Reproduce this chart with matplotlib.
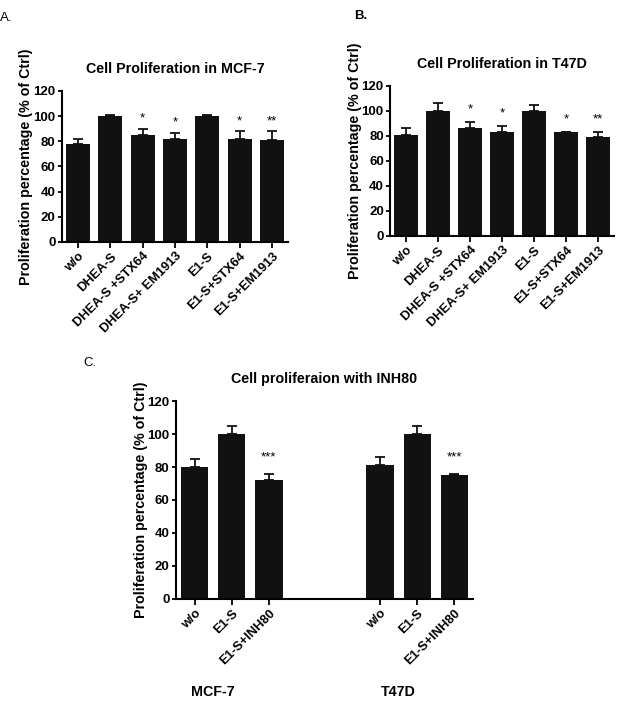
import numpy as np
import matplotlib.pyplot as plt

plt.rcParams['font.family'] = ['Liberation Sans', 'DejaVu Sans']
plt.rcParams['font.weight'] = 'bold'

# panel A / B categories
groups = ['w/o', 'DHEA-S', 'DHEA-S +STX64', 'DHEA-S+ EM1913', 'E1-S', 'E1-S+STX64', 'E1-S+EM1913']
mcf_mean = [78, 100, 85, 82, 100, 82, 81]
mcf_err = [4, 1, 5, 5, 1, 6, 7]
mcf_sig = ['', '', '*', '*', '', '*', '**']
t47_mean = [81, 100, 86, 83, 100, 83, 79]
t47_err = [5, 6, 5, 5, 5, 0.5, 4]
t47_sig = ['', '', '*', '*', '', '*', '**']

# panel C
inh_labels = ['w/o', 'E1-S', 'E1-S+INH80']
inh_mcf_mean = [80, 100, 72]
inh_mcf_err = [5, 5, 4]
inh_t47_mean = [81, 100, 75]
inh_t47_err = [5, 5, 1]
inh_sig = ['', '', '***']
yticks = [0, 20, 40, 60, 80, 100, 120]


def barPanel(ax, x, mean, err, sig, labels, title, star_off):
    ax.bar(x, mean, width=0.74, color='#111111', zorder=2)
    ax.errorbar(x, mean, yerr=[np.zeros(len(err)), err], fmt='none', ecolor='#111111',
                elinewidth=1.3, capsize=3.6, capthick=1.3, zorder=1)
    for xi, m, e, s in zip(x, mean, err, sig):
        if s:
            ax.text(xi, m + e + star_off, s, ha='center', va='center', fontsize=9.5, fontweight='normal')
    ax.set_ylim(0, 120)
    ax.set_yticks(yticks)
    ax.set_xticks(x)
    ax.set_xticklabels(labels, rotation=45, ha='right', rotation_mode='anchor', fontsize=9.3)
    ax.tick_params(axis='y', labelsize=9.5, width=1.3, length=3, pad=1.5)
    ax.tick_params(axis='x', width=1.3, length=4, pad=2)
    for sp in ['top', 'right']:
        ax.spines[sp].set_visible(False)
    for sp in ['left', 'bottom']:
        ax.spines[sp].set_linewidth(1.5)
    ax.set_title(title, fontsize=10.3, fontweight='bold', pad=13)
    ax.set_ylabel('Proliferation percentage (% of Ctrl)', fontsize=10.3, fontweight='bold', labelpad=0)


fig = plt.figure(figsize=(6.24, 7.17), dpi=100)

axA = fig.add_axes([0.099, 0.6625, 0.363, 0.2106])
xA = np.arange(len(groups))
barPanel(axA, xA, mcf_mean, mcf_err, mcf_sig, groups, 'Cell Proliferation in MCF-7', 8)
axA.set_xlim(-0.5, 6.5)

axB = fig.add_axes([0.625, 0.6709, 0.359, 0.2092])
barPanel(axB, xA, t47_mean, t47_err, t47_sig, groups, 'Cell Proliferation in T47D', 10)
axB.set_xlim(-0.5, 6.5)

axC = fig.add_axes([0.282, 0.1646, 0.476, 0.2761])
xC = np.array([0, 1, 2, 5, 6, 7])
barPanel(axC, xC, inh_mcf_mean + inh_t47_mean, inh_mcf_err + inh_t47_err, inh_sig + inh_sig,
         inh_labels + inh_labels, 'Cell proliferaion with INH80', 10)
axC.set_xlim(-0.5, 7.5)

fig.text(0.0, 0.975, 'A.', fontsize=9.5, fontweight='normal', va='center')
fig.text(0.567, 0.977, 'B.', fontsize=9.5, fontweight='bold', va='center')
fig.text(0.133, 0.494, 'C.', fontsize=9.5, fontweight='normal', va='center')
fig.text(0.341, 0.035, 'MCF-7', fontsize=10.3, fontweight='bold', ha='center', va='center')
fig.text(0.638, 0.035, 'T47D', fontsize=10.3, fontweight='bold', ha='center', va='center')

plt.savefig('out.png', dpi=100)
